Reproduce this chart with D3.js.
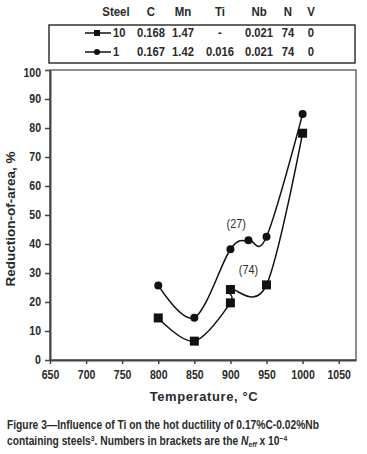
<!DOCTYPE html>
<html>
<head>
<meta charset="utf-8">
<script src="https://cdn.jsdelivr.net/npm/d3@7"></script>
<style>
  body { margin: 0; background: #fff; }
  text { font-family: "Liberation Sans", Arial, sans-serif; font-weight: bold; fill: #2a2a2a; }
</style>
</head>
<body>
<div id="container"></div>
<script>
// data
var steel10T = [800, 850, 900, 900, 950, 1000];
var steel10RA = [14.5, 6.5, 19.7, 24.3, 25.9, 78.2];
var steel1T = [800, 850, 900, 925, 950, 1000];
var steel1RA = [25.7, 14.6, 38.2, 41.3, 42.5, 84.8];

var xTicks = [650, 700, 750, 800, 850, 900, 950, 1000, 1050];
var yTicks = [0, 10, 20, 30, 40, 50, 60, 70, 80, 90, 100];

var headers = ["Steel", "C", "Mn", "Ti", "Nb", "N", "V"];
var row10 = ["10", "0.168", "1.47", "-", "0.021", "74", "0"];
var row1 = ["1", "0.167", "1.42", "0.016", "0.021", "74", "0"];

var notes = [{t: 908, v: 45.5, label: "(27)"}, {t: 925, v: 29.5, label: "(74)"}];

var W = 367, H = 454;
var margin = {top: 70, left: 50, right: 11, bottom: 94};
var width = W - margin.left - margin.right,
    height = H - margin.top - margin.bottom;

// no narrow font installed, so squeeze text horizontally
function squeeze(sel, s){
  sel.each(function(){
    var t = d3.select(this);
    var x = +t.attr("x") || 0;
    t.attr("x", x / s).attr("transform", "scale(" + s + ",1)");
  });
}

var svg = d3.select("#container").append("svg")
    .attr("width", W).attr("height", H);

var xScale = d3.scaleLinear().domain([650, 1074]).range([0, width]);
var yScale = d3.scaleLinear().domain([0, 100]).range([height, 0]);

var g = svg.append("g").attr("transform", "translate(" + margin.left + "," + margin.top + ")");

// plot frame
g.append("rect")
  .attr("x", 0).attr("y", 0).attr("width", width).attr("height", height)
  .attr("fill", "none").attr("stroke", "#444").attr("stroke-width", 1.2);

var xAxis = d3.axisBottom(xScale).tickValues(xTicks).tickFormat(d3.format("d"))
  .tickSize(4).tickSizeOuter(0).tickPadding(6);
var yAxis = d3.axisLeft(yScale).tickValues(yTicks).tickFormat(d3.format("d"))
  .tickSize(5).tickSizeOuter(0).tickPadding(4);

var gx = g.append("g").attr("transform", "translate(0," + height + ")").call(xAxis);
var gy = g.append("g").call(yAxis);
[gx, gy].forEach(function(a){
  a.select(".domain").attr("stroke", "#444").attr("stroke-width", 2);
  a.selectAll(".tick line").attr("stroke", "#444").attr("stroke-width", 1.5);
  a.selectAll(".tick text").style("font-size", "12px").attr("fill", "#2a2a2a");
  squeeze(a.selectAll(".tick text"), 0.88);
});
gy.select(".tick:last-of-type text").attr("dy", "0.5em");

// lines
var line = d3.line()
  .x(function(d){ return xScale(d[0]); })
  .y(function(d){ return yScale(d[1]); })
  .curve(d3.curveCardinal.tension(0));

var s10 = steel10T.map(function(t, i){ return [t, steel10RA[i]]; });
var s1 = steel1T.map(function(t, i){ return [t, steel1RA[i]]; });

g.append("path").datum(s10).attr("d", line)
  .attr("fill", "none").attr("stroke", "#111").attr("stroke-width", 1.5);
g.append("path").datum(s1).attr("d", line)
  .attr("fill", "none").attr("stroke", "#111").attr("stroke-width", 1.5);

g.selectAll(".sq").data(s10).enter().append("rect")
  .attr("x", function(d){ return xScale(d[0]) - 4.5; })
  .attr("y", function(d){ return yScale(d[1]) - 4.5; })
  .attr("width", 9).attr("height", 9).attr("fill", "#111");
g.selectAll(".ci").data(s1).enter().append("circle")
  .attr("cx", function(d){ return xScale(d[0]); })
  .attr("cy", function(d){ return yScale(d[1]); })
  .attr("r", 4).attr("fill", "#111");

var nt = g.selectAll(".note").data(notes).enter().append("text")
  .attr("x", function(d){ return xScale(d.t); })
  .attr("y", function(d){ return yScale(d.v); })
  .attr("text-anchor", "middle")
  .style("font-size", "12px").style("font-weight", "normal").attr("fill", "#222")
  .text(function(d){ return d.label; });
squeeze(nt, 0.9);

// axis titles
svg.append("text")
  .attr("x", 204).attr("y", 401)
  .attr("text-anchor", "middle")
  .style("font-size", "13px").style("letter-spacing", "0.6px")
  .text("Temperature, °C");

svg.append("text")
  .attr("transform", "translate(15,219) rotate(-90)")
  .attr("text-anchor", "middle")
  .style("font-size", "13.5px")
  .text("Reduction-of-area, %");

// composition table / legend
var colX = [116, 151, 183, 220, 259, 288, 311];
var ht = svg.append("g").selectAll("text").data(headers).enter().append("text")
  .attr("x", function(d, i){ return colX[i]; }).attr("y", 16)
  .attr("text-anchor", "middle").style("font-size", "13px")
  .text(function(d){ return d; });
squeeze(ht, 0.88);

svg.append("rect")
  .attr("x", 49).attr("y", 25).attr("width", 306).attr("height", 38)
  .attr("fill", "none").attr("stroke", "#333").attr("stroke-width", 1.5);

[row10, row1].forEach(function(row, r){
  var y = 33 + r * 19;
  svg.append("line").attr("x1", 85).attr("x2", 111).attr("y1", y).attr("y2", y)
    .attr("stroke", "#111").attr("stroke-width", 1.5);
  if (r == 0) {
    svg.append("rect").attr("x", 94).attr("y", y - 3).attr("width", 6).attr("height", 6).attr("fill", "#111");
  } else {
    svg.append("circle").attr("cx", 97).attr("cy", y).attr("r", 3).attr("fill", "#111");
  }
  var rt = svg.append("g").selectAll("text").data(row).enter().append("text")
    .attr("x", function(d, i){ return i == 0 ? 113 : colX[i]; })
    .attr("y", y + 4.5)
    .attr("text-anchor", function(d, i){ return i == 0 ? "start" : "middle"; })
    .style("font-size", "12.5px")
    .text(function(d){ return d; });
  squeeze(rt, 0.9);
});

// caption
var cap = svg.append("text").attr("x", 7).attr("y", 429).style("font-size", "12px").attr("fill", "#222");
cap.append("tspan").text("Figure 3\u2014Influence of Ti on the hot ductility of 0.17%C-0.02%Nb");
var l2 = svg.append("text").attr("x", 7).attr("y", 445).style("font-size", "12px").attr("fill", "#222");
l2.append("tspan").text("containing steels");
l2.append("tspan").attr("dy", -4).style("font-size", "8px").text("3");
l2.append("tspan").attr("dy", 4).text(". Numbers in brackets are the ");
l2.append("tspan").style("font-style", "italic").text("N");
l2.append("tspan").attr("dy", 2).style("font-style", "italic").style("font-size", "8px").text("eff");
l2.append("tspan").attr("dy", -2).text(" x 10");
l2.append("tspan").attr("dy", -4).style("font-size", "8px").text("\u22124");
squeeze(cap, 0.855);
squeeze(l2, 0.855);
</script>
</body>
</html>
